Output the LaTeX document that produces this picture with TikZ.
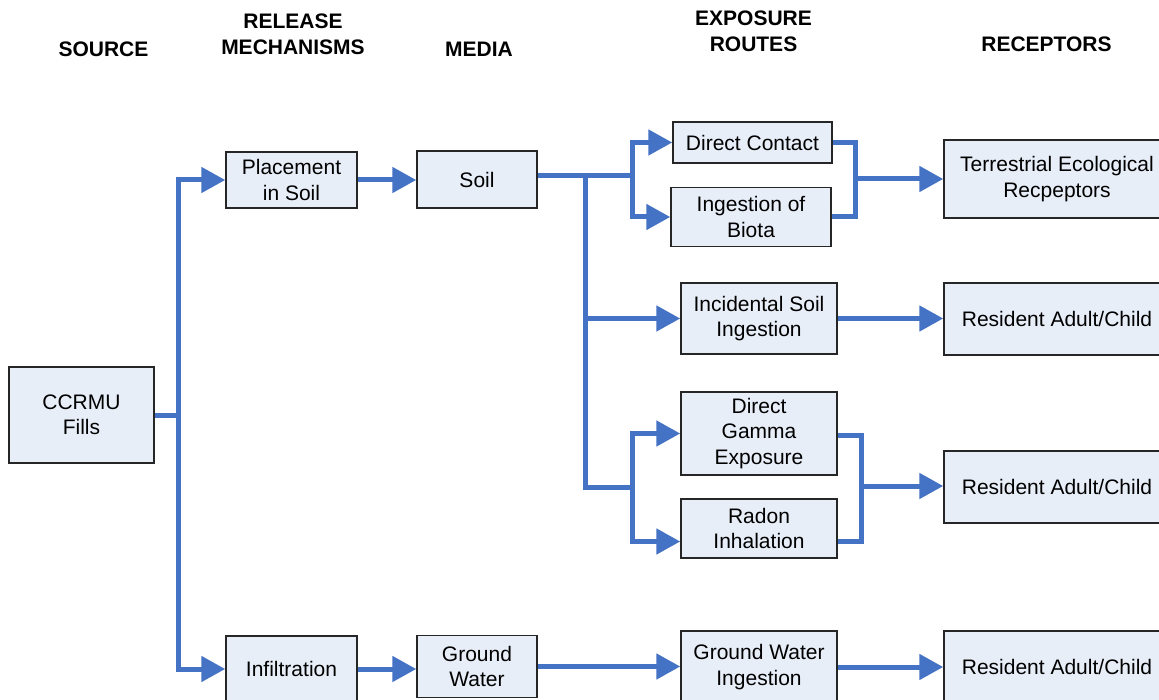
\documentclass[tikz,border=0pt]{standalone}
\usepackage{fontspec}
\setmainfont{Liberation Sans}
\usetikzlibrary{arrows.meta}
\definecolor{lineblue}{RGB}{68,114,196}
\definecolor{boxfill}{RGB}{232,238,248}
\begin{document}
\begin{tikzpicture}[x=1pt,y=-1pt,
  box/.style={draw=black!85, line width=1.5pt, fill=boxfill, align=center, inner sep=0pt, font=\fontsize{21}{25.5}\selectfont},
  hdr/.style={align=center, inner sep=0pt, font=\fontsize{21}{26}\selectfont\bfseries},
  conn/.style={draw=lineblue, line width=5pt},
  arr/.style={conn, -{Triangle[length=24pt,width=25pt]}}]
\useasboundingbox (0,0) rectangle (1159,700);
\clip (0,0) rectangle (1159,700);
\fill[white] (0,0) rectangle (1159,700);
% headers
\node[hdr] (hsrc) at (103.5,49) {SOURCE};
\node[hdr] (hrel) at (293,34) {RELEASE\\MECHANISMS};
\node[hdr] (hmed) at (479,49) {MEDIA};
\node[hdr] (hexp) at (753.5,31) {EXPOSURE\\ROUTES};
\node[hdr] (hrec) at (1046.5,44) {RECEPTORS};
% boxes
\node[box, minimum width=145pt, minimum height=96pt] (src) at (81.5,415) {CCRMU\\Fills};
\node[box, minimum width=131pt, minimum height=56pt] (place) at (291.5,180) {Placement\\in Soil};
\node[box, minimum width=120pt, minimum height=57pt] (soil) at (477,179.5) {Soil};
\node[box, minimum width=131pt, minimum height=66pt] (infil) at (291.5,669) {Infiltration};
\node[box, minimum width=120pt, minimum height=62pt] (gw) at (477,666.5) {Ground\\Water};
\node[box, minimum width=159pt, minimum height=41pt] (dc) at (752.5,142.5) {Direct Contact};
\node[box, minimum width=160pt, minimum height=59pt] (biota) at (751,217) {Ingestion of\\Biota};
\node[box, minimum width=156pt, minimum height=71pt] (incid) at (759,318.5) {Incidental Soil\\Ingestion};
\node[box, minimum width=156pt, minimum height=83pt] (gamma) at (759,433.5) {Direct\\Gamma\\Exposure};
\node[box, minimum width=156pt, minimum height=59pt] (radon) at (759,528.5) {Radon\\Inhalation};
\node[box, minimum width=156pt, minimum height=72pt] (gwi) at (759,667) {Ground Water\\Ingestion};
\node[box, minimum width=226pt, minimum height=78pt] (terr) at (1057,179) {Terrestrial Ecological\\Recpeptors};
\node[box, minimum width=226pt, minimum height=72pt] (res1) at (1057,319) {Resident Adult/Child};
\node[box, minimum width=226pt, minimum height=72pt] (res2) at (1057,487) {Resident Adult/Child};
\node[box, minimum width=226pt, minimum height=72pt] (res3) at (1057,667) {Resident Adult/Child};
% junction points
\coordinate (s1) at (178,415);
\coordinate (j1) at (585,176);
\coordinate (j2) at (632,176);
\coordinate (j3) at (585,487);
\coordinate (j4) at (632,487);
\coordinate (k1) at (855,179);
\coordinate (k2) at (861,486);
% source trunk
\draw[conn] (src.east) -- (s1);
\draw[arr] (s1) |- (place.west);
\draw[arr] (s1) |- (infil.west);
\draw[arr] (place.east) -- (place.east -| soil.west);
\draw[arr] (infil.east) -- (infil.east -| gw.west);
% soil branches
\draw[conn] (soil.east |- j2) -- (j2);
\draw[arr] (j2) |- (dc.west);
\draw[arr] (j2) |- (biota.west);
\draw[conn] (j1) -- (j3) -- (j4);
\draw[arr] (j1 |- incid.west) -- (incid.west);
\draw[arr] (j4) |- (gamma.west);
\draw[arr] (j4) |- ([yshift=-13pt]radon.west);
% right side merges
\draw[conn] (dc.east) -| (k1);
\draw[conn] (biota.east) -| (k1);
\draw[arr] (k1) -- (k1 -| terr.west);
\draw[arr] (incid.east) -- (incid.east -| res1.west);
\draw[conn] ([yshift=-1.5pt]gamma.east) -| (k2);
\draw[conn] ([yshift=-12.5pt]radon.east) -| (k2);
\draw[arr] (k2) -- (k2 -| res2.west);
% ground water
\draw[arr] (gw.east) -- (gw.east -| gwi.west);
\draw[arr] (gwi.east) -- (gwi.east -| res3.west);
\end{tikzpicture}
\end{document}
